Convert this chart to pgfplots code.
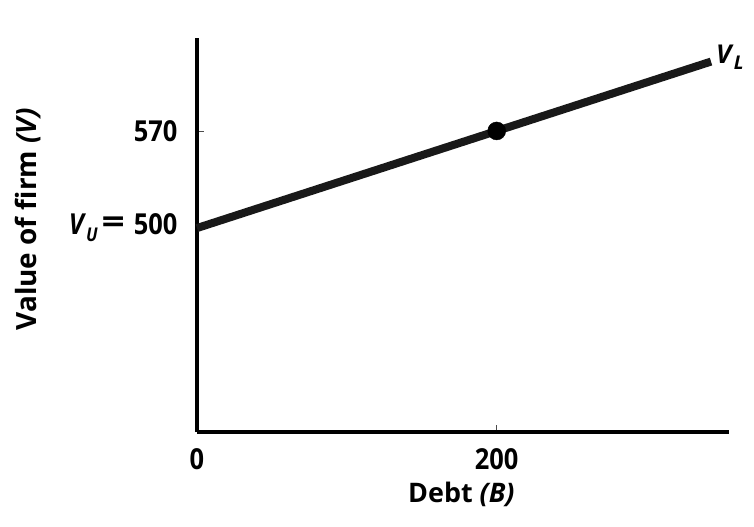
\documentclass[border=0pt]{standalone}
\usepackage{fontspec}
\setmainfont{Open Sans}
\newfontfamily\tickfont{Open Sans}[FakeStretch=0.88]
\usepackage{graphicx}
\usepackage{pgfplots}
\pgfplotsset{compat=1.18}
\newcommand{\sub}[1]{\raisebox{-0.45ex}{\fontsize{19}{21}\selectfont\textit{#1}}}
\begin{document}
\begin{tikzpicture}
\begin{axis}[
  scale only axis,
  width=532bp, height=394bp,
  xmin=0, xmax=355, ymin=353, ymax=637,
  axis x line=bottom, axis y line=left,
  axis line style={line width=4.5bp, -},
  xtick={0,200}, ytick={500,570},
  yticklabels={{\textit{V}\sub{U}\kern4bp\raisebox{0.1ex}{\scalebox{1.6}[1.15]{=}}\kern9bp500},{570}},
  xticklabels={0,200},
  tick align=inside, major tick length=7bp,
  tick style={line width=0.8bp, black!70},
  ticklabel style={font=\tickfont\fontsize{29}{31}\selectfont\bfseries},
  yticklabel style={anchor=east, xshift=-16bp},
  xticklabel style={anchor=north, yshift=-13bp},
  xlabel={Debt \textit{(B)}},
  ylabel={Value of firm \textit{(V)}},
  xlabel style={at={(axis description cs:0.497,0)}, anchor=center, yshift=-62bp, font=\fontsize{27}{29}\selectfont\bfseries},
  ylabel style={at={(axis description cs:-0.318,0.54)}, anchor=center, font=\fontsize{28}{30}\selectfont\bfseries},
  clip=false,
]
\addplot[line width=8bp, black!90] coordinates {(0,500) (200,570) (343,620)};
\addplot[only marks, mark=*, mark size=9bp, black] coordinates {(200,570)};
\node[anchor=west, font=\fontsize{26}{28}\selectfont\bfseries, inner sep=2bp] at (axis cs:345,623) {\textit{V}\sub{L}};
\end{axis}
\path (current axis.south west) ++(-197bp,-95bp) (current axis.north east) ++(25bp,38bp);
\end{tikzpicture}
\end{document}
